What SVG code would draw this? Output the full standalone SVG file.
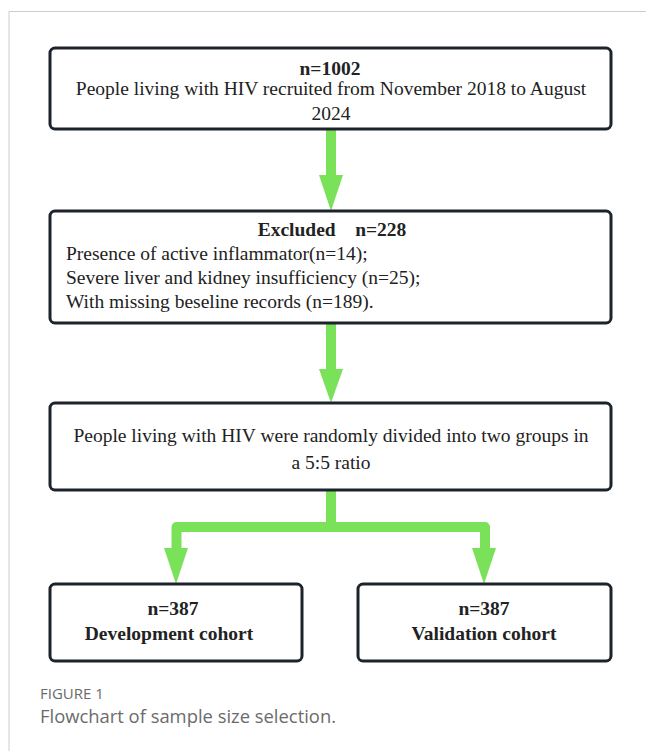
<svg xmlns="http://www.w3.org/2000/svg" width="646" height="751" viewBox="0 0 646 751">
<defs>
<style>
.box{fill:#fff;stroke:#1c232b;stroke-width:3}
.t{font-family:"Liberation Serif","Times New Roman",serif;font-size:19.5px;fill:#222}
.b{font-weight:bold}
.c{text-anchor:middle}
.line{fill:none;stroke:#7ae258;stroke-width:10}
.head{fill:#7ae258}
.frame{fill:none;stroke:#cccccc;stroke-width:1}
.cap{font-family:"Open Sans","Noto Sans",sans-serif;fill:#6b6b6b}
</style>
</defs>
<rect width="646" height="751" fill="#fff"/>
<path class="frame" d="M9 751V11.5H646"/>
<g id="connectors">
<path class="line" d="M331 129V176"/>
<polygon class="head" points="319,175 343,175 331,211"/>
<path class="line" d="M331 323V370"/>
<polygon class="head" points="319,369 343,369 331,403"/>
<path class="line" stroke-linejoin="round" d="M331 490V527H176.5V549"/>
<path class="line" stroke-linejoin="round" d="M331 527H485V549"/>
<polygon class="head" points="164,548 188,548 176,584"/>
<polygon class="head" points="472,548 496,548 484,584"/>
</g>
<g id="n1">
<rect class="box" x="50" y="48" width="561" height="81" rx="5"/>
<text class="t b c" x="330" y="75">n=1002</text>
<text class="t c" x="331" y="95">People living with HIV recruited from November 2018 to August</text>
<text class="t c" x="331" y="120">2024</text>
</g>
<g id="n2">
<rect class="box" x="50" y="211" width="561" height="112" rx="5"/>
<text class="t b c" x="332" y="236" xml:space="preserve">Excluded    n=228</text>
<text class="t" x="66" y="260">Presence of active inflammator(n=14);</text>
<text class="t" x="66" y="284">Severe liver and kidney insufficiency (n=25);</text>
<text class="t" x="66" y="308">With missing beseline records (n=189).</text>
</g>
<g id="n3">
<rect class="box" x="50" y="403" width="561" height="87" rx="5"/>
<text class="t c" x="331" y="442">People living with HIV were randomly divided into two groups in</text>
<text class="t c" x="331" y="469">a 5:5 ratio</text>
</g>
<g id="n4">
<rect class="box" x="50" y="584" width="252" height="77" rx="5"/>
<text class="t b c" x="173" y="615">n=387</text>
<text class="t b c" x="169" y="640">Development cohort</text>
</g>
<g id="n5">
<rect class="box" x="358" y="584" width="253" height="77" rx="5"/>
<text class="t b c" x="484" y="615">n=387</text>
<text class="t b c" x="484" y="640">Validation cohort</text>
</g>
<text class="cap" x="40" y="699" font-size="15">FIGURE 1</text>
<text class="cap" x="40" y="723" font-size="18.4">Flowchart of sample size selection.</text>
</svg>
